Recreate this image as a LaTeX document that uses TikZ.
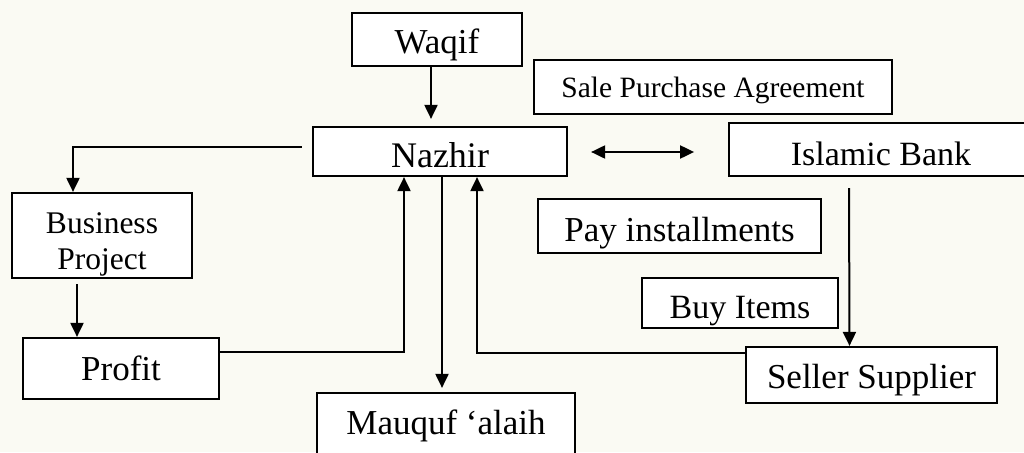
\documentclass[tikz,border=0pt]{standalone}
\usepackage{fontspec}
\setmainfont{Liberation Serif}
\usetikzlibrary{arrows.meta}
\definecolor{paper}{RGB}{250,250,243}
\begin{document}
\begin{tikzpicture}[x=1pt,y=-1pt,>={Triangle[length=14pt,width=13pt]},
  box/.style={draw,fill=white,line width=2.2pt,inner xsep=0pt,inner ysep=0pt,align=center,
    font=\fontsize{35}{40}\selectfont},
  line/.style={line width=2pt}]
\fill[paper](0,0) rectangle (1024,452);
\clip(0,0) rectangle (1024,452);
\node[box,minimum width=170pt,text height=41pt,text depth=12pt](waqif) at (437,39.5){Waqif};
\node[box,minimum width=254pt,text height=40pt,text depth=9pt,font=\fontsize{36}{40}\selectfont](nazhir) at (440,151.5){Nazhir};
\node[box,minimum width=358pt,text height=37.3pt,text depth=16.7pt,font=\fontsize{29.5}{34}\selectfont](sale) at (713,87){Sale Purchase Agreement};
\node[box,minimum width=304pt,text height=42pt,text depth=11pt,font=\fontsize{34}{40}\selectfont](bank) at (881,149.5){Islamic Bank};
\node[box,minimum width=283pt,text height=42pt,text depth=12pt](pay) at (679.5,226){Pay installments};
\node[box,minimum width=196pt,text height=40pt,text depth=10pt,font=\fontsize{34}{40}\selectfont](buy) at (740,303){Buy Items};
\node[box,minimum width=251pt,text height=41.5pt,text depth=14.5pt](seller) at (871.5,375){Seller Supplier};
\node[box,minimum width=180pt,text height=76.5pt,text depth=8.5pt,font=\fontsize{31.5}{36.2}\selectfont](project) at (102,235.5){Business\\Project};
\node[box,minimum width=196pt,text height=42pt,text depth=19pt](profit) at (121,368.5){Profit};
\node[box,minimum width=258pt,text height=41pt,text depth=36pt](mauquf) at (446,431.5){Mauquf ‘alaih};
% arrows
\draw[line,->]([xshift=-6pt]waqif.south)--([xshift=-9pt,yshift=7pt]nazhir.north);
\draw[line,<->]([xshift=23pt,yshift=-0.5pt]nazhir.east)--([xshift=126pt,yshift=-0.5pt]nazhir.east);
\draw[line,->]([xshift=-10pt,yshift=4.5pt]nazhir.west)-|([xshift=-29pt]project.north);
\draw[line,->]([xshift=-25pt,yshift=-5pt]project.south)--([xshift=-44pt]profit.north);
\draw[line,->]([yshift=16.5pt]profit.east)-|([xshift=-36pt]nazhir.south);
\draw[line,->]([xshift=2pt]nazhir.south)--([xshift=-4pt,yshift=4pt]mauquf.north);
\draw[line,->]([yshift=22pt]seller.west)-|([xshift=37pt]nazhir.south);
\draw[line,->]([xshift=-32pt,yshift=-11pt]bank.south)--([xshift=-22pt]seller.north);
\end{tikzpicture}
\end{document}
